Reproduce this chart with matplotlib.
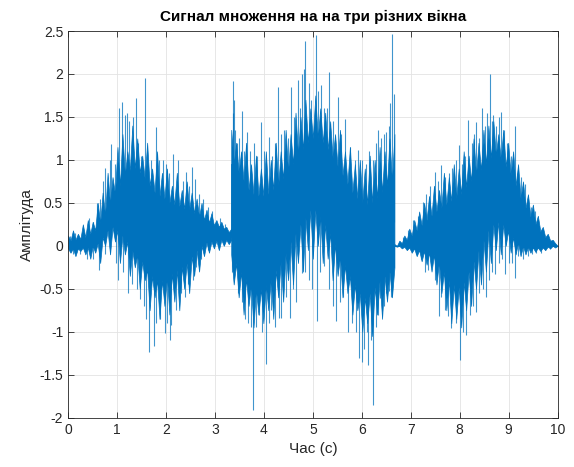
import matplotlib
matplotlib.use("Agg")
import matplotlib.pyplot as plt
import matplotlib.ticker as ticker
import numpy as np

plt.rcParams['font.family'] = ['Liberation Sans', 'DejaVu Sans']

# dense core of the signal, read every ~0.1 s for each of the three windows
core_hi_1 = [0.06, 0.07, 0.08, 0.1, 0.14, 0.18, 0.26, 0.35, 0.48, 0.6, 0.7, 0.82, 0.88, 0.9, 0.85, 0.78, 0.7,
             0.62, 0.58, 0.55, 0.5, 0.48, 0.46, 0.43, 0.42, 0.38, 0.34, 0.3, 0.27, 0.24, 0.22, 0.2, 0.16, 0.14]
core_lo_1 = [-0.03, -0.03, -0.03, -0.02, -0.02, 0.0, 0.03, 0.1, 0.18, 0.22, 0.18, 0.12, 0.05, -0.05, -0.1,
             -0.18, -0.28, -0.35, -0.4, -0.4, -0.36, -0.32, -0.28, -0.24, -0.2, -0.12, -0.05, 0.0, 0.04,
             0.05, 0.06, 0.07, 0.07, 0.07]
core_hi_2 = [0.95, 0.85, 0.75, 0.65, 0.6, 0.58, 0.58, 0.6, 0.65, 0.7, 0.78, 0.85, 0.95, 1.05, 1.12, 1.2, 1.25,
             1.25, 1.2, 1.12, 1.02, 0.92, 0.82, 0.72, 0.62, 0.55, 0.5, 0.48, 0.5, 0.55, 0.62, 0.7, 0.75, 0.8]
core_lo_2 = [-0.1, -0.2, -0.3, -0.38, -0.45, -0.5, -0.5, -0.45, -0.38, -0.28, -0.18, -0.08, 0.05, 0.15, 0.25,
             0.33, 0.42, 0.42, 0.35, 0.25, 0.15, 0.02, -0.12, -0.22, -0.35, -0.45, -0.55, -0.6, -0.55,
             -0.48, -0.4, -0.35, -0.3, -0.25]
core_hi_3 = [0.0, 0.03, 0.07, 0.12, 0.18, 0.24, 0.3, 0.35, 0.4, 0.44, 0.48, 0.52, 0.55, 0.6, 0.68, 0.75,
             0.82, 0.88, 0.95, 1.02, 1.05, 1.0, 0.92, 0.82, 0.7, 0.55, 0.44, 0.34, 0.25, 0.17, 0.1, 0.06,
             0.03, 0.0]
core_lo_3 = [0.0, 0.0, -0.01, -0.02, -0.03, -0.05, -0.06, -0.08, -0.1, -0.18, -0.3, -0.4, -0.45, -0.48,
             -0.42, -0.3, -0.18, -0.05, 0.07, 0.18, 0.25, 0.28, 0.25, 0.18, 0.1, 0.04, 0.0, -0.01, -0.02,
             -0.02, -0.02, -0.01, 0.0, 0.0]

# fringe around the core: tops every ~0.1 s, bottoms in between
fringe_up_1 = [0.12, 0.18, 0.14, 0.25, 0.3, 0.28, 0.5, 0.62, 0.85, 0.8, 1.15, 1.3, 1.1, 1.4, 1.25, 1.05, 1.2,
               0.9, 1.1, 0.85, 0.9, 0.7, 0.85, 0.65, 0.75, 0.62, 0.55, 0.5, 0.42, 0.38, 0.3, 0.28, 0.22, 0.2]
fringe_dn_1 = [-0.08, -0.12, -0.06, -0.1, -0.15, -0.08, -0.2, 0.0, -0.1, 0.05, -0.2, -0.1, -0.35, -0.25,
               -0.5, -0.4, -0.75, -0.6, -0.85, -0.7, -0.8, -0.65, -0.75, -0.5, -0.55, -0.35, -0.3, -0.12,
               -0.08, -0.03, -0.05, 0.0, 0.02]
fringe_up_2 = [1.35, 1.2, 1.1, 1.2, 0.95, 1.05, 0.9, 1.1, 1.0, 1.2, 1.1, 1.35, 1.3, 1.55, 1.5, 1.7, 1.6, 1.75,
               1.6, 1.55, 1.45, 1.3, 1.35, 1.1, 1.15, 0.95, 1.0, 0.9, 1.05, 1.0, 1.15, 1.1, 1.25, 1.3]
fringe_dn_2 = [-0.45, -0.6, -0.8, -0.7, -0.95, -0.8, -0.9, -0.75, -0.85, -0.6, -0.65, -0.4, -0.45, -0.2,
               -0.3, -0.05, -0.15, 0.0, -0.2, -0.15, -0.4, -0.35, -0.6, -0.55, -0.8, -0.75, -1.0, -0.9,
               -1.05, -0.8, -0.85, -0.65, -0.6]
fringe_up_3 = [0.02, 0.06, 0.12, 0.2, 0.3, 0.4, 0.5, 0.58, 0.7, 0.65, 0.85, 0.8, 0.95, 0.9, 1.1, 1.05, 1.25,
               1.2, 1.35, 1.4, 1.45, 1.3, 1.35, 1.2, 1.1, 0.95, 0.75, 0.6, 0.48, 0.35, 0.22, 0.14, 0.07, 0.0]
fringe_dn_3 = [-0.01, -0.03, -0.05, -0.08, -0.12, -0.18, -0.22, -0.3, -0.45, -0.55, -0.75, -0.9, -0.85,
               -0.95, -0.75, -0.7, -0.5, -0.45, -0.3, -0.2, -0.05, -0.1, 0.0, -0.08, -0.1, -0.12, -0.1,
               -0.08, -0.07, -0.06, -0.05, -0.03, -0.02]

# individual peaks sticking out of the core (time, value)
spike_t = [0.05, 0.15, 0.3, 0.42, 0.5, 0.6, 0.66, 0.72, 0.76, 0.85, 0.88, 0.95, 1.05, 1.1, 1.16, 1.2, 1.25,
           1.32, 1.38, 1.42, 1.5, 1.57, 1.62, 1.7, 1.79, 1.86, 1.93, 2.0, 2.06, 2.15, 2.25, 2.35, 2.4, 2.47,
           2.53, 2.6, 2.68, 2.75, 2.85, 2.95, 3.1, 3.2,
           0.1, 0.25, 0.38, 0.52, 0.63, 0.75, 0.97, 1.03, 1.12, 1.23, 1.3, 1.4, 1.48, 1.55, 1.6, 1.66, 1.76,
           1.8, 1.87, 1.98, 2.03, 2.08, 2.11, 2.2, 2.31, 2.38, 2.45, 2.55, 2.62, 2.72, 2.85,
           3.36, 3.37, 3.39, 3.42, 3.46, 3.5, 3.55, 3.6, 3.65, 3.72, 3.8, 3.86, 3.94, 4.0, 4.1, 4.17, 4.22,
           4.28, 4.35, 4.42, 4.5, 4.55, 4.62, 4.69, 4.74, 4.78, 4.82, 4.85, 4.92, 4.97, 5.06, 5.1, 5.16,
           5.22, 5.28, 5.34, 5.42, 5.51, 5.58, 5.66, 5.75, 5.86, 5.93, 6.0, 6.08, 6.15, 6.22, 6.28, 6.33,
           6.4, 6.45, 6.5, 6.55, 6.58, 6.62, 6.65,
           3.35, 3.4, 3.47, 3.55, 3.62, 3.68, 3.73, 3.78, 3.84, 3.9, 3.96, 4.04, 4.1, 4.15, 4.22, 4.3, 4.36,
           4.45, 4.54, 4.6, 4.65, 4.77, 4.85, 4.92, 4.98, 5.08, 5.15, 5.23, 5.34, 5.42, 5.48, 5.55, 5.62,
           5.71, 5.8, 5.88, 5.94, 6.0, 6.04, 6.1, 6.13, 6.18, 6.23, 6.28, 6.33, 6.38, 6.45, 6.5, 6.55, 6.6,
           6.75, 6.85, 6.95, 7.05, 7.15, 7.24, 7.32, 7.4, 7.49, 7.55, 7.62, 7.7, 7.78, 7.85, 7.92, 7.98,
           8.05, 8.1, 8.17, 8.25, 8.3, 8.34, 8.4, 8.46, 8.52, 8.56, 8.61, 8.65, 8.68, 8.75, 8.8, 8.85, 8.9,
           8.97, 9.05, 9.12, 9.18, 9.25, 9.33, 9.4, 9.46, 9.53, 9.6, 9.7, 9.8, 9.9,
           6.8, 6.9, 7.0, 7.1, 7.2, 7.3, 7.35, 7.42, 7.5, 7.57, 7.62, 7.7, 7.76, 7.83, 7.92, 8.01, 8.06,
           8.12, 8.22, 8.27, 8.33, 8.4, 8.47, 8.53, 8.6, 8.66, 8.73, 8.8, 8.87, 8.92, 9.0, 9.07, 9.12, 9.2,
           9.3, 9.4, 9.48, 9.55, 9.65, 9.75, 9.85]
spike_v = [0.12, 0.15, 0.2, 0.32, 0.28, 0.5, 0.55, 0.75, 0.9, 1.0, 1.18, 0.95, 1.6, 1.67, 1.52, 1.55, 1.45,
           1.5, 1.72, 1.2, 1.05, 1.95, 1.05, 1.0, 1.38, 1.0, 1.0, 0.95, 0.85, 1.07, 1.0, 0.75, 0.86, 0.7,
           0.92, 0.78, 0.6, 0.55, 0.45, 0.4, 0.32, 0.25,
           -0.1, -0.1, -0.15, -0.15, -0.28, -0.1, -0.2, -0.4, -0.3, -0.55, -0.45, -0.5, -0.62, -0.7, -0.85,
           -1.24, -1.16, -0.9, -0.85, -1.01, -0.9, -1.1, -0.92, -0.75, -0.55, -0.6, -0.45, -0.4, -0.25,
           -0.15, -0.05,
           1.55, 1.92, 1.7, 1.35, 1.2, 1.25, 1.57, 1.1, 1.32, 1.1, 1.2, 1.05, 1.44, 1.1, 1.27, 1.05, 1.2,
           1.85, 1.3, 1.35, 1.25, 1.85, 1.5, 1.93, 1.6, 2.0, 2.06, 2.38, 1.9, 1.7, 2.45, 1.8, 1.87,
           1.6, 1.6, 2.02, 1.45, 1.73, 1.3, 1.48, 1.15, 1.0, 1.11, 1.0, 0.95, 1.1, 1.0, 1.2, 1.35,
           1.25, 1.3, 1.33, 1.4, 1.66, 2.47, 1.77,
           -0.3, -0.34, -0.55, -0.65, -0.85, -0.9, -0.95, -1.91, -0.95, -0.81, -1.0, -1.38, -0.9, -0.75,
           -0.95, -0.84, -0.84, -0.6, -0.84, -0.5, -0.65, -0.32, -0.3, -0.4, -0.5, -0.88, -0.3, -0.23,
           -0.5, -0.7, -0.88, -0.65, -0.6, -1.0, -0.9, -1.0, -1.3, -1.35, -1.2, -1.0, -1.39, -1.1, -1.85,
           -0.95, -0.8, -0.61, -0.7, -0.55, -0.53, -0.6,
           0.05, 0.1, 0.18, 0.3, 0.35, 0.51, 0.6, 0.7, 0.86, 0.75, 0.94, 0.8, 0.85, 0.9, 1.0, 1.17,
           0.95, 1.05, 1.46, 1.2, 1.3, 1.44, 1.25, 1.6, 1.4, 1.55, 2.0, 1.45, 1.52, 1.4, 1.5, 1.56, 1.35,
           1.2, 1.05, 1.4, 0.85, 0.8, 0.72, 0.55, 0.45, 0.41, 0.3, 0.2, 0.12, 0.06,
           -0.01, -0.03, -0.05, -0.1, -0.15, -0.3, -0.28, -0.25, -0.4, -0.82, -0.6, -0.75, -0.82, -0.96,
           -0.9, -1.33, -1.0, -1.04, -0.8, -0.7, -0.77, -0.55, -0.5, -0.6, -0.4, -0.3, -0.33, -0.2, -0.15,
           -0.33, -0.2, -0.2, -0.37, -0.12, -0.15, -0.12, -0.1, -0.08, -0.08, -0.05, -0.04]

blue = '#0072BD'

fig = plt.figure(figsize=(5.74, 4.67), dpi=100)
ax = fig.add_axes([0.1185, 0.1056, 0.853, 0.828])

seg_hi = [core_hi_1, core_hi_2, core_hi_3]
seg_lo = [core_lo_1, core_lo_2, core_lo_3]
seg_up = [fringe_up_1, fringe_up_2, fringe_up_3]
seg_dn = [fringe_dn_1, fringe_dn_2, fringe_dn_3]

t_all, mid_all = [], []
for k in range(3):
    t0, t1 = k * 10 / 3, (k + 1) * 10 / 3
    t = np.linspace(t0, t1, len(seg_hi[k]))
    half = (t[1] - t[0]) / 2
    hi = np.array(seg_hi[k])
    lo = np.array(seg_lo[k])
    # jagged band: top peaks on the grid, bottom peaks half a step later
    n = len(t)
    x = np.empty(2 * n - 1)
    top = np.empty(2 * n - 1)
    bot = np.empty(2 * n - 1)
    x[0::2] = t
    x[1::2] = t[:-1] + half
    top[0::2] = seg_up[k]
    top[1::2] = hi[:-1]
    bot[0::2] = lo
    bot[1::2] = seg_dn[k]
    ax.fill_between(x, bot, top, color=blue, linewidth=0.5, edgecolor=blue)
    t_all.append(t)
    mid_all.append((hi + lo) / 2)
t_all = np.concatenate(t_all)
mid_all = np.concatenate(mid_all)

spike_t = np.array(spike_t)
idx = np.abs(t_all[None, :] - spike_t[:, None]).argmin(axis=1)
ax.vlines(spike_t, mid_all[idx], spike_v, color=blue, linewidth=0.8, alpha=0.75)

# flat bits at the window boundaries
ax.plot([3.3, 3.333, 3.333], [0.1, 0.1, 0.95], color=blue, linewidth=0.6)
ax.plot([6.667, 6.667, 6.75], [-0.25, 0.0, 0.0], color=blue, linewidth=0.6)

ax.set_xlim(0, 10)
ax.set_ylim(-2, 2.5)
ax.xaxis.set_major_locator(ticker.MultipleLocator(1))
ax.yaxis.set_major_locator(ticker.MultipleLocator(0.5))
ax.yaxis.set_major_formatter(ticker.FormatStrFormatter('%g'))
ax.grid(True, color='#e3e3e3', linewidth=0.6)
ax.set_axisbelow(True)
ax.tick_params(direction='in', top=True, right=True, length=4, width=0.6, labelsize=10,
               colors='#262626')
for s in ax.spines.values():
    s.set_color('#262626')
    s.set_linewidth(0.6)

ax.set_title('Сигнал множення на на три різних вікна', fontsize=11, fontweight='bold', pad=7)
ax.set_xlabel('Час (с)', fontsize=11, color='#262626')
ax.set_ylabel('Амплітуда', fontsize=11, color='#262626')

fig.savefig('out.png', dpi=100)
